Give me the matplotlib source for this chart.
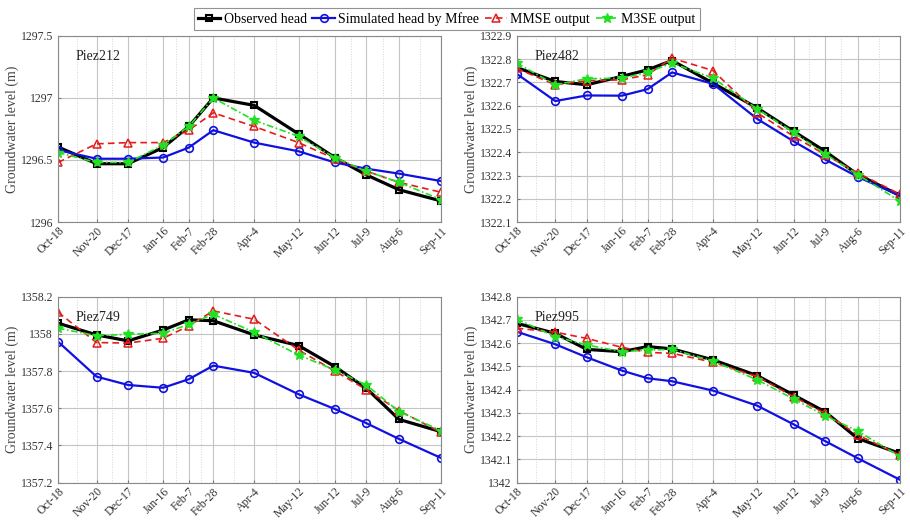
import numpy as np
import matplotlib
matplotlib.use('Agg')
import matplotlib.pyplot as plt
import matplotlib.dates as mdates

plt.rcParams['font.family'] = ['Liberation Serif', 'DejaVu Serif']

# sampling dates and tick labels
dates = np.array(['2012-10-18', '2012-11-20', '2012-12-17', '2013-01-16', '2013-02-07', '2013-02-28',
                  '2013-04-04', '2013-05-12', '2013-06-12', '2013-07-09', '2013-08-06', '2013-09-11'],
                 dtype='datetime64[D]')
date_labels = ['Oct-18', 'Nov-20', 'Dec-17', 'Jan-16', 'Feb-7', 'Feb-28',
               'Apr-4', 'May-12', 'Jun-12', 'Jul-9', 'Aug-6', 'Sep-11']

series_names = ['Observed head', 'Simulated head by Mfree', 'MMSE output', 'M3SE output']

# Piez212
p212_obs = [1296.605, 1296.47, 1296.47, 1296.60, 1296.77, 1297.0, 1296.94, 1296.71, 1296.52, 1296.38, 1296.26, 1296.17]
p212_sim = [1296.58, 1296.51, 1296.51, 1296.52, 1296.60, 1296.74, 1296.64, 1296.57, 1296.48, 1296.43, 1296.39, 1296.33]
p212_mmse = [1296.48, 1296.63, 1296.64, 1296.64, 1296.74, 1296.88, 1296.77, 1296.64, 1296.51, 1296.41, 1296.32, 1296.24]
p212_m3se = [1296.56, 1296.48, 1296.48, 1296.62, 1296.77, 1297.0, 1296.82, 1296.69, 1296.52, 1296.41, 1296.32, 1296.18]

# Piez482
p482_obs = [1322.764, 1322.704, 1322.69, 1322.726, 1322.754, 1322.794, 1322.697, 1322.59, 1322.49, 1322.404, 1322.304, 1322.214]
p482_sim = [1322.737, 1322.62, 1322.644, 1322.643, 1322.671, 1322.743, 1322.694, 1322.543, 1322.447, 1322.369, 1322.294, 1322.214]
p482_mmse = [1322.76, 1322.69, 1322.707, 1322.711, 1322.733, 1322.804, 1322.751, 1322.569, 1322.469, 1322.39, 1322.311, 1322.22]
p482_m3se = [1322.783, 1322.69, 1322.716, 1322.718, 1322.743, 1322.783, 1322.719, 1322.586, 1322.486, 1322.393, 1322.304, 1322.19]

# Piez749
p749_obs = [1358.057, 1357.994, 1357.962, 1358.02, 1358.075, 1358.07, 1357.994, 1357.937, 1357.824, 1357.707, 1357.54, 1357.474]
p749_sim = [1357.958, 1357.77, 1357.725, 1357.71, 1357.756, 1357.829, 1357.79, 1357.675, 1357.596, 1357.52, 1357.435, 1357.333]
p749_mmse = [1358.116, 1357.953, 1357.95, 1357.976, 1358.042, 1358.123, 1358.078, 1357.913, 1357.80, 1357.70, 1357.587, 1357.47]
p749_m3se = [1358.03, 1357.99, 1357.997, 1358.003, 1358.05, 1358.105, 1358.008, 1357.886, 1357.806, 1357.725, 1357.582, 1357.48]

# Piez995
p995_obs = [1342.685, 1342.642, 1342.573, 1342.563, 1342.585, 1342.575, 1342.528, 1342.46, 1342.377, 1342.305, 1342.19, 1342.126]
p995_sim = [1342.649, 1342.595, 1342.539, 1342.482, 1342.449, 1342.436, 1342.396, 1342.331, 1342.251, 1342.179, 1342.105, 1342.013]
p995_mmse = [1342.664, 1342.647, 1342.62, 1342.582, 1342.56, 1342.556, 1342.518, 1342.456, 1342.37, 1342.298, 1342.205, 1342.119]
p995_m3se = [1342.703, 1342.628, 1342.592, 1342.563, 1342.57, 1342.573, 1342.523, 1342.442, 1342.36, 1342.288, 1342.222, 1342.113]

panels = [
    ('Piez212', [p212_obs, p212_sim, p212_mmse, p212_m3se], np.arange(1296, 1297.51, 0.5)),
    ('Piez482', [p482_obs, p482_sim, p482_mmse, p482_m3se], np.arange(1322.1, 1322.91, 0.1)),
    ('Piez749', [p749_obs, p749_sim, p749_mmse, p749_m3se], np.arange(1357.2, 1358.21, 0.2)),
    ('Piez995', [p995_obs, p995_sim, p995_mmse, p995_m3se], np.arange(1342.0, 1342.81, 0.1)),
]

styles = [
    dict(color='black', lw=2.3, marker='s', ms=5, mfc='none', mew=1.5, ls='-'),
    dict(color='#1010e0', lw=1.6, marker='o', ms=5.5, mfc='none', mew=1.2, ls='-'),
    dict(color='#e51b1b', lw=1.2, marker='^', ms=6, mfc='none', mew=1.1, ls=(0, (4, 2.5))),
    dict(color='#22e022', lw=1.2, marker='*', ms=7.5, mfc='#22e022', mew=1.0, ls=(0, (4, 1.5, 1, 1.5))),
]

fig = plt.figure(figsize=(9.1, 5.2), dpi=100)
positions = [(0.0637, 0.573, 0.421, 0.358), (0.5678, 0.573, 0.421, 0.358),
             (0.0637, 0.0717, 0.421, 0.358), (0.5678, 0.0717, 0.421, 0.358)]

x = dates.astype('datetime64[ms]').astype(object)
xnum = mdates.date2num(x)
minor = (xnum[:-1] + xnum[1:]) / 2

handles = None
for (name, data, yt), pos in zip(panels, positions):
    ax = fig.add_axes(pos)
    hs = []
    for vals, st in zip(data, styles):
        h, = ax.plot(xnum, vals, **st)
        hs.append(h)
    if handles is None:
        handles = hs
    ax.set_xlim(xnum[0], xnum[-1])
    ax.set_ylim(yt[0], yt[-1])
    ax.set_yticks(yt)
    ax.set_yticklabels(['%g' % round(v, 1) for v in yt])
    ax.set_xticks(xnum)
    ax.set_xticklabels(date_labels, rotation=45, ha='right', rotation_mode='anchor', fontsize=8)
    ax.set_xticks(minor, minor=True)
    ax.grid(True, which='major', color='#c4c4c4', lw=0.8)
    ax.grid(True, which='minor', color='#d4d4d4', lw=0.7, ls=':')
    ax.set_axisbelow(True)
    ax.tick_params(which='both', direction='in', length=2.5, color='#777777', labelsize=8.5, labelcolor='#333333')
    ax.tick_params(axis='x', pad=2)
    ax.tick_params(which='minor', length=0)
    for sp in ax.spines.values():
        sp.set_color('#888888')
        sp.set_linewidth(0.8)
    ax.set_ylabel('Groundwater level (m)', fontsize=10, color='#444444', labelpad=1)
    ax.text(0.047, 0.887, name, transform=ax.transAxes, fontsize=10, va='center', ha='left', color='#222222')

leg = fig.legend(handles, series_names, loc='center', bbox_to_anchor=(0.491, 0.963), ncol=4,
                 fontsize=10, frameon=True, fancybox=False, edgecolor='#777777',
                 handlelength=1.6, handletextpad=0.25, columnspacing=0.4, borderpad=0.3)
leg.get_frame().set_linewidth(0.8)

fig.savefig('out.png', dpi=100)
